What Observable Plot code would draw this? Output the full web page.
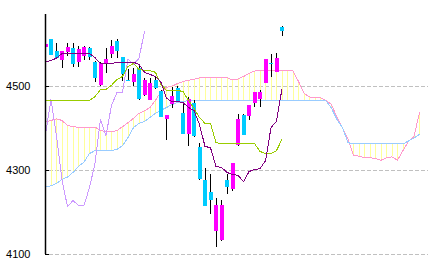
<!DOCTYPE html>
<html><head><meta charset="utf-8">
<script src="https://cdn.jsdelivr.net/npm/d3@7"></script>
<script src="https://cdn.jsdelivr.net/npm/@observablehq/plot@0.6"></script>
<style>
html,body{margin:0;padding:0;background:#fff;}
</style>
</head><body><div id="chart"></div>
<script>
// Daily candles (index 0..43)
const opens  = [4594,4613,4585,4563,4583,4592,4558,4573,4592,4558,4504,4556,4578,4609,4570,4516,4510,4544,4480,4468,4516,4489,4422,4458,4496,4437,4386,4461,4355,4276,4248,4155,4133,4276,4255,4360,4432,4430,4461,4470,4508,4556,4535,4642];
const highs  = [4601,4613,4604,4585,4604,4604,4597,4597,4594,4561,4558,4591,4611,4613,4570,4542,4544,4548,4520,4520,4525,4492,4432,4499,4501,4459,4475,4468,4365,4305,4290,4234,4229,4290,4317,4434,4434,4456,4487,4492,4566,4578,4580,4645];
const lows   = [4594,4575,4568,4544,4572,4547,4547,4563,4563,4511,4501,4533,4568,4568,4513,4513,4501,4468,4478,4468,4494,4427,4372,4449,4465,4387,4358,4380,4276,4214,4196,4116,4131,4243,4250,4358,4384,4420,4451,4451,4508,4523,4535,4621];
const closes = [4601,4575,4568,4585,4594,4554,4590,4594,4571,4520,4556,4566,4597,4585,4530,4513,4530,4470,4516,4508,4496,4427,4432,4477,4465,4387,4470,4382,4278,4214,4229,4217,4217,4260,4317,4422,4384,4456,4487,4487,4566,4554,4568,4633];
// Conversion line (tenkan) and base line (kijun)
const tenkan = [4560,4563,4569,4580,4580,4580,4580,4580,4580,4570,4556,4556,4556,4559,4559,4559,4559,4554,4535,4530,4525,4511,4473,4465,4465,4463,4451,4444,4410,4358,4355,4310,4308,4296,4291,4289,4274,4298,4303,4305,4324,4403,4418,4496];
const kijun  = [4468,4468,4468,4468,4468,4468,4468,4468,4468,4477,4494,4494,4504,4518,4525,4549,4556,4542,4539,4539,4535,4506,4492,4492,4492,4489,4468,4449,4427,4413,4413,4367,4365,4365,4365,4365,4365,4365,4365,4346,4341,4341,4348,4375];
// Leading spans (index 0..68, already shifted forward)
const spanA = [4416,4420,4424,4420,4408,4405,4404,4404,4404,4404,4396,4393,4393,4396,4405,4415,4425,4437,4443,4451,4468,4489,4499,4502,4508,4513,4516,4518,4522,4522,4522,4522,4522,4522,4517,4519,4525,4532,4538,4539,4539,4539,4539,4539,4539,4538,4513,4485,4476,4476,4474,4468,4458,4427,4403,4375,4336,4335,4331,4331,4329,4325,4331,4333,4325,4348,4370,4382,4439];
const spanB = [4262,4264,4270,4279,4285,4296,4310,4321,4341,4348,4348,4348,4348,4351,4360,4379,4403,4413,4418,4427,4437,4444,4451,4458,4463,4465,4468,4468,4468,4468,4468,4468,4468,4468,4468,4468,4468,4468,4468,4468,4468,4468,4468,4468,4468,4468,4468,4468,4468,4468,4468,4467,4449,4422,4403,4367,4364,4364,4364,4364,4364,4364,4364,4364,4364,4364,4371,4378,4387];
const yTicks = [4100, 4300, 4500];
const lagging = 25;

const candles = opens.map((o, i) => ({i, o, h: highs[i], l: lows[i], c: closes[i]}));
const up = candles.filter(d => d.c >= d.o);
const down = candles.filter(d => d.c < d.o);
const tk = tenkan.map((v, i) => ({i, v}));
const kj = kijun.map((v, i) => ({i, v}));
const chikou = closes.map((v, i) => ({i: i - lagging, v})).filter(d => d.i >= 0);
const cloud = spanA.map((a, i) => ({i, a, b: spanB[i]}));
const crisp = "crispEdges";

const chart = Plot.plot({
  width: 430, height: 268,
  marginLeft: 45, marginRight: 0, marginTop: 14, marginBottom: 14,
  x: {domain: [0, 70], axis: null},
  y: {domain: [4100, 4673], axis: null},
  style: {background: "#fff", fontFamily: "'Liberation Sans', Arial, sans-serif", fontSize: "11px", color: "#000"},
  marks: [
    Plot.ruleY(yTicks, {x1: 0.75, x2: 69.7, stroke: "#c0c0c0", strokeDasharray: "4,2", shapeRendering: crisp}),
    Plot.ruleX(cloud, {x: "i", y1: "a", y2: "b", stroke: "#ffff99", shapeRendering: crisp, clip: true}),
    Plot.line(cloud, {x: "i", y: "a", stroke: "#ff99cc", strokeWidth: 1, shapeRendering: crisp, clip: true}),
    Plot.line(cloud, {x: "i", y: "b", stroke: "#99ccff", strokeWidth: 1, shapeRendering: crisp, clip: true}),
    Plot.ruleX(candles, {x: "i", y1: "l", y2: "h", stroke: "#000", strokeWidth: 1, shapeRendering: crisp, clip: true}),
    Plot.ruleX(up, {x: "i", y1: "o", y2: "c", stroke: "#ff00ff", strokeWidth: 4, shapeRendering: crisp, clip: true}),
    Plot.ruleX(down, {x: "i", y1: "o", y2: "c", stroke: "#00ccff", strokeWidth: 4, shapeRendering: crisp, clip: true}),
    Plot.line(chikou, {x: "i", y: "v", stroke: "#cc99ff", strokeWidth: 1, shapeRendering: crisp, clip: true}),
    Plot.line(kj, {x: "i", y: "v", stroke: "#99cc00", strokeWidth: 1, shapeRendering: crisp, clip: true}),
    Plot.line(tk, {x: "i", y: "v", stroke: "#800080", strokeWidth: 1, shapeRendering: crisp, clip: true}),
    Plot.ruleX([0], {y1: 4100, y2: 4673, stroke: "#000", strokeWidth: 1.5}),
    Plot.ruleY(yTicks, {x1: 0, x2: 0.75, stroke: "#000", shapeRendering: crisp}),
    Plot.axisY(yTicks, {tickSize: 0, tickPadding: 15, label: null, tickFormat: d => String(d), fontSize: 11})
  ]
});
document.getElementById("chart").appendChild(chart);
</script>
</body></html>
